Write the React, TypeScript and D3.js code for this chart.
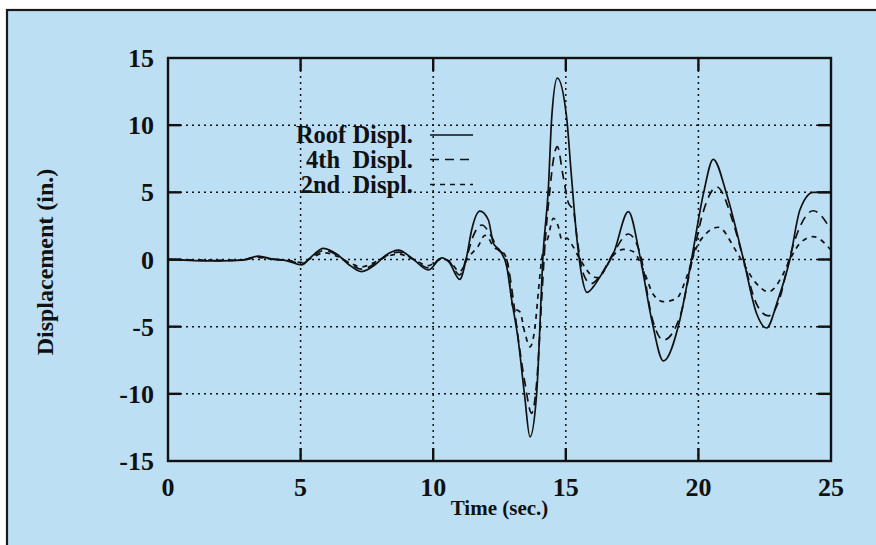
import React from "react";
import * as d3 from "d3";

// Displacement time histories (time in sec., displacement in in.)
const roofDispl: [number, number][] = [
  [0, 0], [1, -0.08], [2, -0.1], [2.8, -0.05], [3.4, 0.25], [3.9, 0.05], [4.5, -0.1],
  [5.05, -0.4], [5.4, 0.2], [5.86, 0.83], [6.4, 0.35], [6.8, -0.35], [7.3, -0.9],
  [7.8, -0.4], [8.2, 0.3], [8.69, 0.7], [9.2, 0.1], [9.82, -0.78], [10.32, 0.12],
  [10.6, -0.2], [11.0, -1.48], [11.26, 0.2], [11.45, 2.2], [11.76, 3.6], [12.08, 2.94],
  [12.27, 1.2], [12.52, 0.65], [12.77, -0.5], [12.96, -3.0], [13.2, -5.9], [13.44, -10],
  [13.65, -13.2], [13.9, -10], [14.15, 0.6], [14.34, 5.2], [14.47, 10.6], [14.68, 13.5],
  [15.03, 10.6], [15.2, 6.5], [15.41, 1.7], [15.6, -1.2], [15.8, -2.45], [16.05, -2.0],
  [16.29, -1.28], [16.8, 0.46], [17.36, 3.56], [17.8, 0.2], [18.24, -4.5], [18.68, -7.55],
  [19.3, -4.5], [19.74, 0], [20.19, 4.9], [20.56, 7.46], [21.06, 4.9], [21.7, 0],
  [22.19, -4], [22.57, -5.1], [23.0, -3.0], [23.45, 0], [23.83, 3.7], [24.33, 5.0],
  [24.6, 5.0], [25, 5.0],
];

const fourthDispl: [number, number][] = [
  [0, 0], [1, -0.06], [2, -0.08], [2.8, -0.04], [3.4, 0.2], [3.9, 0.04], [4.5, -0.08],
  [5.05, -0.3], [5.4, 0.15], [5.9, 0.68], [6.4, 0.3], [6.8, -0.25], [7.3, -0.72],
  [7.8, -0.3], [8.2, 0.25], [8.7, 0.55], [9.2, 0.08], [9.82, -0.62], [10.32, 0.08],
  [10.6, -0.15], [11.0, -1.15], [11.25, 0.1], [11.52, 1.8], [11.83, 2.57], [12.2, 1.7],
  [12.46, 0.7], [12.6, 0.5], [12.77, 0], [13.02, -3.0], [13.2, -5.8], [13.46, -9.2],
  [13.71, -11.45], [13.9, -9.2], [14.09, -3.0], [14.2, 0.7], [14.4, 5.2], [14.53, 7.4],
  [14.68, 8.4], [14.9, 6.2], [15.1, 4.2], [15.28, 3.7], [15.45, 1.2], [15.65, -1.0],
  [15.95, -1.8], [16.3, -1.2], [16.8, 0.5], [17.36, 1.9], [17.8, 0.46], [18.24, -4.26],
  [18.68, -6.0], [19.3, -4.26], [19.74, -0.3], [20.19, 3.6], [20.69, 5.4], [21.32, 2.7],
  [21.7, 0], [22.19, -3.3], [22.64, -4.2], [23.08, -2.8], [23.42, 0], [23.83, 2.44],
  [24.33, 3.63], [25, 2.2],
];

const secondDispl: [number, number][] = [
  [0, 0], [1, -0.04], [2, -0.06], [2.8, -0.03], [3.4, 0.15], [3.9, 0.02], [4.5, -0.06],
  [5.05, -0.22], [5.4, 0.1], [5.9, 0.5], [6.4, 0.22], [6.8, -0.2], [7.3, -0.55],
  [7.8, -0.2], [8.2, 0.18], [8.7, 0.4], [9.2, 0.05], [9.82, -0.45], [10.32, 0.05],
  [10.6, -0.1], [11.0, -0.9], [11.3, 0.1], [11.7, 1.0], [11.95, 1.8], [12.1, 1.55],
  [12.27, 0.95], [12.5, 0.7], [12.6, 0.6], [12.77, 0], [13.02, -3.6], [13.27, -3.9],
  [13.46, -5.5], [13.65, -6.5], [13.84, -5.0], [13.97, -2.3], [14.09, 0], [14.34, 1.7],
  [14.53, 3.07], [14.72, 2.44], [14.85, 1.45], [15.03, 1.6], [15.2, 1.2], [15.54, 0],
  [16.04, -1.28], [16.2, -1.35], [16.8, 0.33], [17.17, 0.76], [17.55, 0.58], [17.93, -0.8],
  [18.3, -2.6], [18.68, -3.14], [19.18, -2.9], [19.56, -1.28], [19.93, 0.9], [20.3, 1.95],
  [20.75, 2.4], [21.4, 0.7], [21.7, -0.3], [22.19, -1.8], [22.64, -2.4], [23.14, -1.3],
  [23.45, 0], [23.83, 1.2], [24.33, 1.7], [25, 0.7],
];

const xTicks = [0, 5, 10, 15, 20, 25];
const yTicks = [-15, -10, -5, 0, 5, 10, 15];
const legendLabels = ["Roof Displ.", "4th\u00a0\u00a0Displ.", "2nd\u00a0\u00a0Displ."];

const W = 876;
const H = 545;
const left = 168;
const right = 831;
const top = 58;
const bottom = 461;
const ink = "#111";
const font = "'Liberation Serif', 'Times New Roman', serif";

export default function App() {
  const x = d3.scaleLinear().domain([0, 25]).range([left, right]);
  const y = d3.scaleLinear().domain([-15, 15]).range([bottom, top]);
  const line = d3
    .line<[number, number]>()
    .x((d) => x(d[0]))
    .y((d) => y(d[1]))
    .curve(d3.curveMonotoneX);

  const series = [
    { data: roofDispl, dash: "none" },
    { data: fourthDispl, dash: "9,6" },
    { data: secondDispl, dash: "5,5" },
  ];

  const legendY = [135, 159.5, 184.5];

  return (
    <svg
      width={W}
      height={H}
      style={{ position: "absolute", left: 0, top: 0, display: "block" }}
    >
      <rect x={0} y={0} width={W} height={H} fill="#ffffff" />
      <rect x={7} y={10} width={W + 20} height={H + 20} fill="#bddff4" stroke="#1a1a1a" strokeWidth={2.2} />

      {/* grid */}
      <g stroke={ink} strokeWidth={1.5} strokeDasharray="2,4">
        {xTicks.slice(1, -1).map((t) => (
          <line key={"gx" + t} x1={x(t)} x2={x(t)} y1={top} y2={bottom} />
        ))}
        {yTicks.slice(1, -1).map((v) => (
          <line key={"gy" + v} x1={left} x2={right} y1={y(v)} y2={y(v)} />
        ))}
      </g>

      {/* tick marks */}
      <g stroke={ink} strokeWidth={2.4}>
        {xTicks.slice(1, -1).map((t) => (
          <g key={"tx" + t}>
            <line x1={x(t)} x2={x(t)} y1={bottom} y2={bottom - 13} />
            <line x1={x(t)} x2={x(t)} y1={top} y2={top + 13} />
          </g>
        ))}
        {yTicks.slice(1, -1).map((v) => (
          <g key={"ty" + v}>
            <line x1={left} x2={left + 13} y1={y(v)} y2={y(v)} />
            <line x1={right} x2={right - 13} y1={y(v)} y2={y(v)} />
          </g>
        ))}
      </g>

      {/* series */}
      {series.map((s, i) => (
        <path
          key={"s" + i}
          d={line(s.data) || ""}
          fill="none"
          stroke={ink}
          strokeWidth={1.7}
          strokeDasharray={s.dash}
          strokeLinejoin="round"
        />
      ))}

      {/* frame */}
      <rect x={left} y={top} width={right - left} height={bottom - top} fill="none" stroke={ink} strokeWidth={2.4} />

      {/* tick labels */}
      <g fontFamily={font} fontWeight="bold" fontSize={26} fill={ink}>
        {yTicks.map((v) => (
          <text key={"ly" + v} x={154} y={y(v) + 9} textAnchor="end">
            {v}
          </text>
        ))}
        {xTicks.map((t) => (
          <text key={"lx" + t} x={x(t)} y={496} textAnchor="middle">
            {t}
          </text>
        ))}
      </g>

      {/* axis titles */}
      <g fontFamily={font} fontWeight="bold" fill={ink}>
        <text x={(left + right) / 2} y={515} textAnchor="middle" fontSize={21}>
          Time (sec.)
        </text>
        <text transform={`translate(53,262) rotate(-90)`} textAnchor="middle" fontSize={24}>
          Displacement (in.)
        </text>
      </g>

      {/* legend */}
      <g fontFamily={font} fontWeight="bold" fontSize={24.5} fill={ink}>
        {legendLabels.map((lab, i) => (
          <g key={"lg" + i}>
            <text x={413} y={legendY[i] + 8} textAnchor="end">
              {lab}
            </text>
            <line
              x1={430}
              x2={473}
              y1={legendY[i]}
              y2={legendY[i]}
              stroke={ink}
              strokeWidth={1.7}
              strokeDasharray={series[i].dash}
            />
          </g>
        ))}
      </g>
    </svg>
  );
}
